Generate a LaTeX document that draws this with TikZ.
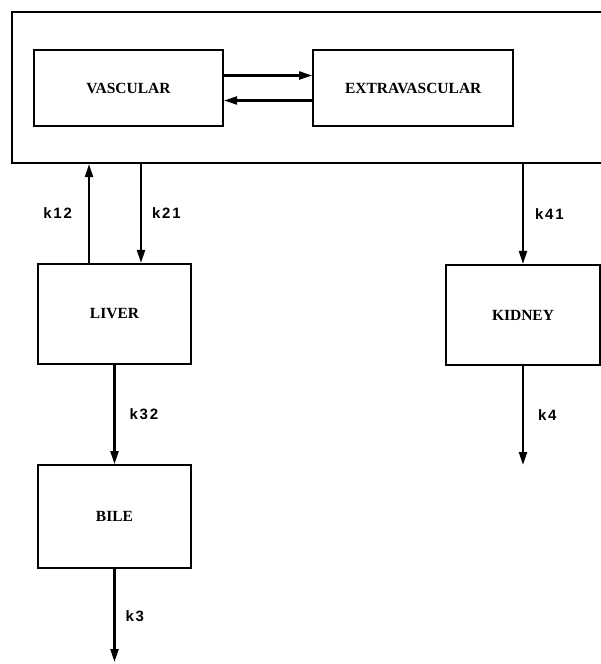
\documentclass[tikz,border=0pt]{standalone}
\usepackage{fontspec}
\setmainfont{Liberation Serif}
\newfontfamily\ratefont[LetterSpace=12]{Liberation Sans}
\usetikzlibrary{arrows.meta,positioning}

\begin{document}
\begin{tikzpicture}[
    x=1pt, y=-1pt,
    node distance=88pt,
    box/.style={draw, line width=2.2pt, align=center, inner sep=0pt,
      font=\fontsize{15.5}{18}\selectfont\bfseries},
    arrow/.style={-{Triangle[length=13pt,width=8pt]}, line width=2.2pt},
    rate/.style={font=\ratefont\fontsize{15}{17}\selectfont\bfseries, inner sep=2pt}
  ]
    \useasboundingbox (0,0) rectangle (600,664);

    % compartments
    \node[draw, line width=2.2pt, minimum width=594pt, minimum height=151pt] (body) at (309,87.5) {};
    \node[box, minimum width=189pt, minimum height=76pt] (vasc) at (128.5,88) {VASCULAR};
    \node[box, right=of vasc, minimum width=200pt, minimum height=76pt] (extra) {EXTRAVASCULAR};
    \node[box, minimum width=153pt, minimum height=100pt] (liver) at (114.5,314) {LIVER};
    \node[box, below=99pt of liver, minimum width=153pt, minimum height=103pt] (bile) {BILE};
    \node[box, minimum width=154pt, minimum height=100pt] (kidney) at (523,315) {KIDNEY};
    \coordinate (bileout) at (114.5,662);
    \coordinate (kidout) at (523,465);

    \draw[arrow] ([yshift=12.5pt]vasc.east) -- ([yshift=12.5pt]extra.west);
    \draw[arrow] ([yshift=-12.5pt]extra.west) -- ([yshift=-12.5pt]vasc.east);
    \draw[arrow] ([xshift=-25.5pt]liver.north) -- node[rate, left=14pt] {k12} ([xshift=-25.5pt]liver.north |- body.south);
    \draw[arrow] ([xshift=26.5pt]liver.north |- body.south) -- node[rate, right=8pt] {k21} ([xshift=26.5pt]liver.north);
    \draw[arrow] (liver) -- node[rate, right=12pt] {k32} (bile);
    \draw[arrow] (bile) -- node[rate, right=8pt] {k3} (bileout);
    \draw[arrow] (kidney.north |- body.south) -- node[rate, right=9pt] {k41} (kidney);
    \draw[arrow] (kidney) -- node[rate, right=12pt] {k4} (kidout);
\end{tikzpicture}
\end{document}
